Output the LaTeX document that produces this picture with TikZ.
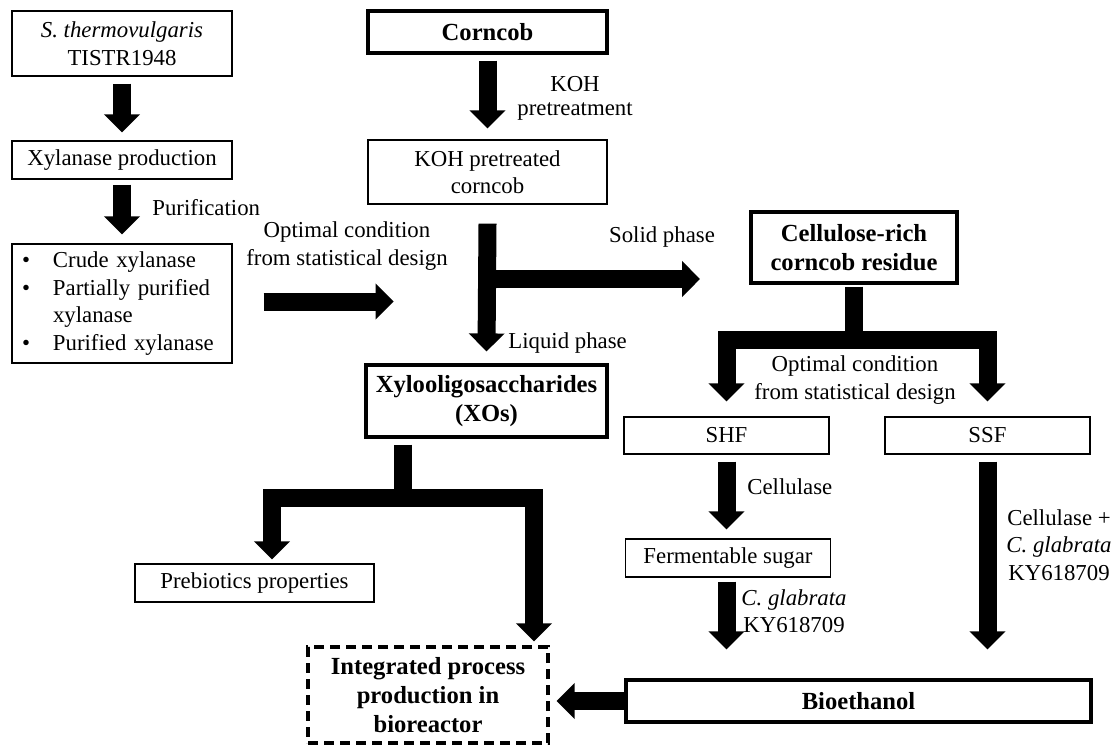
\documentclass[tikz,border=0pt]{standalone}
\usepackage{fontspec}
\setmainfont{Liberation Serif}
\usetikzlibrary{arrows.meta}

\begin{document}
\begin{tikzpicture}[x=0.5pt,y=-0.5pt,
    every node/.style={font=\fontsize{11.4}{13.7}\selectfont},
    box/.style={draw, line width=0.6pt, inner sep=0pt, align=center},
    boldbox/.style={box, line width=1.6pt, font=\fontsize{12.3}{14.6}\selectfont\bfseries},
    blk/.style={line width=9pt, -{Triangle[width=17.5pt,length=9pt]}},
    lbl/.style={inner sep=0pt, align=center}]
    \useasboundingbox (0,0) rectangle (1117,746);

    % Enzyme branch
    \node[box, minimum width=110pt, minimum height=32.5pt] (thermo) at (122,43.5)
        {\textit{S. thermovulgaris}\\TISTR1948};
    \node[box, minimum width=110pt, minimum height=19pt] (xprod) at (122,160) {Xylanase production};
    \node[box, minimum width=110pt, minimum height=59.5pt, text width=100pt, align=left,
        inner xsep=5pt] (enz) at (122,303.5)
        {\makebox[15.5pt][l]{\textbullet}Crude xylanase\\
         \makebox[15.5pt][l]{\textbullet}Partially purified\\
         \makebox[15.5pt][l]{}xylanase\\
         \makebox[15.5pt][l]{\textbullet}Purified xylanase};

    % Corncob branch
    \node[boldbox, minimum width=119.5pt, minimum height=21pt] (corncob) at (487.5,32) {Corncob};
    \node[box, minimum width=119.5pt, minimum height=32pt] (kohcob) at (487.5,172) {KOH pretreated\\corncob};
    \node[boldbox, minimum width=103pt, minimum height=35.5pt] (cellres) at (854,247.5)
        {Cellulose-rich\\corncob residue};
    \node[boldbox, minimum width=120.5pt, minimum height=36pt] (xos) at (486.5,401)
        {Xylooligosaccharides\\(XOs)};

    % Ethanol routes
    \node[box, minimum width=102.5pt, minimum height=18.5pt] (shf) at (726.5,435.5) {SHF};
    \node[box, minimum width=102.5pt, minimum height=18.5pt] (ssf) at (987.5,435.5) {SSF};
    \node[box, minimum width=102.5pt, minimum height=19pt] (sugar) at (728,558) {Fermentable sugar};
    \node[boldbox, minimum width=232.5pt, minimum height=21pt] (bioeth) at (858.5,701) {Bioethanol};

    % Products
    \node[box, minimum width=119.5pt, minimum height=19pt] (prebio) at (254.5,583) {Prebiotics properties};
    \node[boldbox, dashed, dash pattern=on 5pt off 3pt, minimum width=120pt, minimum height=48pt]
        (integ) at (428,695) {Integrated process\\production in\\bioreactor};

    % Block arrows
    \draw[blk] ([yshift=-3.5pt]thermo.south) -- ([yshift=4pt]xprod.north);
    \draw[blk] ([yshift=-2.5pt]xprod.south) -- ([yshift=4.5pt]enz.north);
    \draw[blk] ([xshift=15.5pt,yshift=1pt]enz.east) -- ++(130,0);
    \draw[blk] ([yshift=-3pt]corncob.south) -- ([yshift=5.5pt]kohcob.north);
    \draw[blk] ([yshift=-9.5pt]kohcob.south) -- ([yshift=6pt]xos.north);
    \coordinate (tjoin) at (487.5,279);
    \coordinate (solidend) at (700,279);
    \draw[blk] (tjoin) -- (solidend);
    \coordinate (cbar) at (854,340);
    \draw[blk] ([yshift=-1pt]cellres.south) -- (cbar) -| ([yshift=7.5pt]shf.north);
    \draw[blk] (cbar) -| ([yshift=7.5pt]ssf.north);
    \draw[blk] ([xshift=-41.75pt,yshift=-3pt]xos.south) -- ++(0,53)
        -| ([xshift=8.75pt,yshift=2pt]prebio.north);
    \draw[blk] ([xshift=-41.75pt,yshift=-3pt]xos.south) ++(0,53)
        -| ([xshift=53pt,yshift=2pt]integ.north);
    \draw[blk] ([yshift=-3.5pt]shf.south) -- ([yshift=4.5pt]shf.south |- sugar.north);
    \draw[blk] ([yshift=-2pt]sugar.south -| shf.south) -- ([yshift=14.5pt]shf.south |- bioeth.north);
    \draw[blk] ([yshift=-3.5pt]ssf.south) -- ([yshift=14.5pt]ssf.south |- bioeth.north);
    \draw[blk] (bioeth.west) -- ([xshift=3.5pt]integ.east |- bioeth.west);

    % Arrow labels
    \node[lbl, anchor=west] (purif) at (152,208) {Purification};
    \node[lbl] (optl) at (347,246) {Optimal condition\\from statistical design};
    \node[lbl, font=\fontsize{11.4}{12}\selectfont] (kohl) at (575,98) {KOH\\pretreatment};
    \node[lbl] (solidl) at (662,237) {Solid phase};
    \node[lbl, anchor=west] (liquidl) at (508,343) {Liquid phase};
    \node[lbl] (optr) at (855,380) {Optimal condition\\from statistical design};
    \node[lbl, anchor=west] (cellul) at (747,487) {Cellulase};
    \node[lbl] (cglab) at (794,611) {\textit{C. glabrata}\\KY618709};
    \node[lbl] (cglabs) at (1059,545) {Cellulase +\\\textit{C. glabrata}\\KY618709};
\end{tikzpicture}
\end{document}
